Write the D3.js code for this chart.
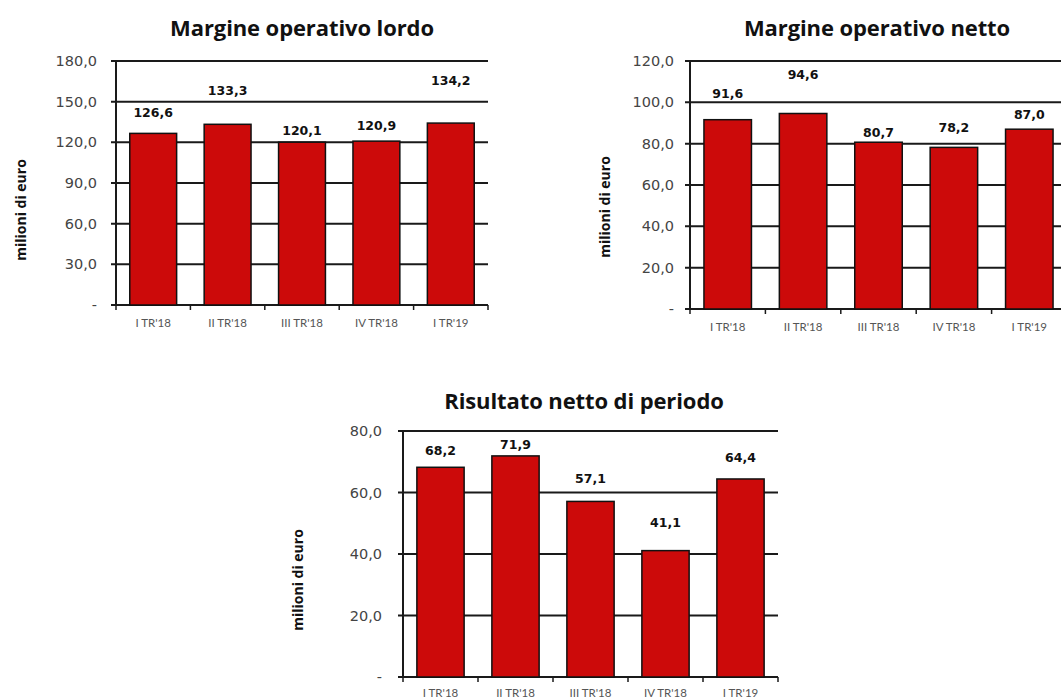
<!DOCTYPE html>
<html>
<head>
<meta charset="utf-8">
<script src="https://cdn.jsdelivr.net/npm/d3@7"></script>
<style>
  html, body { margin: 0; padding: 0; background: #fff; }
  svg { display: block; }
</style>
</head>
<body>
<svg id="chart" width="1061" height="700"></svg>
<script>
// ---- Data ----
const categories = ["I TR'18", "II TR'18", "III TR'18", "IV TR'18", "I TR'19"];
const margineLordo = [126.6, 133.3, 120.1, 120.9, 134.2];
const margineNetto = [91.6, 94.6, 80.7, 78.2, 87.0];
const risultatoNetto = [68.2, 71.9, 57.1, 41.1, 64.4];
const ticksLordo = [0, 30, 60, 90, 120, 150, 180];
const ticksNetto = [0, 20, 40, 60, 80, 100, 120];
const ticksRisultato = [0, 20, 40, 60, 80];
const titles = ["Margine operativo lordo", "Margine operativo netto", "Risultato netto di periodo"];
const yAxisTitle = "milioni di euro";

// ---- Layout ----
const charts = [
  { title: titles[0], values: margineLordo, ticks: ticksLordo,
    x0: 116, x1: 488, yTop: 61, yBot: 305, titleX: 302, titleY: 36,
    yTitleX: 21, yTitleY: 210, tickLabelX: 97, catY: 327,
    labelDy: [21, 34, 12, 15, 42] },
  { title: titles[1], values: margineNetto, ticks: ticksNetto,
    x0: 690, x1: 1067, yTop: 61, yBot: 309, titleX: 877, titleY: 36,
    yTitleX: 605, yTitleY: 207, tickLabelX: 674, catY: 331,
    labelDy: [26, 39, 10, 20, 15] },
  { title: titles[2], values: risultatoNetto, ticks: ticksRisultato,
    x0: 403, x1: 778, yTop: 431, yBot: 677, titleX: 584, titleY: 409,
    yTitleX: 298, yTitleY: 580, tickLabelX: 382, catY: 697,
    labelDy: [17, 11, 23, 28, 21] }
];

const fmt = v => v === 0 ? "-" : v.toFixed(1).replace(".", ",");
const svg = d3.select("#chart");

charts.forEach(c => {
  const g = svg.append("g");
  const x = d3.scaleBand().domain(categories).range([c.x0, c.x1])
    .paddingInner(0.37).paddingOuter(0.185);
  const y = d3.scaleLinear().domain([0, d3.max(c.ticks)]).range([c.yBot, c.yTop]);

  // title
  g.append("text").attr("x", c.titleX).attr("y", c.titleY)
    .attr("text-anchor", "middle")
    .style("font-family", "'Open Sans', Lato, sans-serif")
    .style("font-weight", "bold").style("font-size", "22px").style("fill", "#111")
    .style("letter-spacing", "-0.1px")
    .text(c.title);

  // y-axis title
  g.append("text")
    .attr("transform", `translate(${c.yTitleX},${c.yTitleY}) rotate(-90)`)
    .attr("text-anchor", "middle").attr("dy", "0.35em")
    .style("font-family", "'Open Sans', Lato, sans-serif")
    .style("font-weight", "bold").style("font-size", "14px").style("fill", "#111")
    .text(yAxisTitle);

  // gridlines (incl. baseline) with left tick marks
  g.selectAll("line.grid").data(c.ticks).enter().append("line")
    .attr("class", "grid")
    .attr("x1", c.x0 - 5).attr("x2", c.x1)
    .attr("y1", d => y(d)).attr("y2", d => y(d))
    .attr("stroke", "#1a1a1a").attr("stroke-width", 2);

  // y tick labels
  g.selectAll("text.ytick").data(c.ticks).enter().append("text")
    .attr("class", "ytick")
    .attr("x", c.tickLabelX).attr("y", d => y(d)).attr("dy", "0.35em")
    .attr("text-anchor", "end")
    .style("font-family", "'DejaVu Sans', sans-serif")
    .style("font-size", "14.5px").style("fill", "#444")
    .text(fmt);

  // y axis line
  g.append("line").attr("x1", c.x0).attr("x2", c.x0)
    .attr("y1", c.yTop).attr("y2", c.yBot + 1)
    .attr("stroke", "#1a1a1a").attr("stroke-width", 2);

  // category boundary ticks
  const step = x.step();
  const bounds = d3.range(categories.length + 1).map(i => c.x0 + i * step);
  g.selectAll("line.xtick").data(bounds).enter().append("line")
    .attr("class", "xtick")
    .attr("x1", d => d).attr("x2", d => d)
    .attr("y1", c.yBot).attr("y2", c.yBot + 5)
    .attr("stroke", "#1a1a1a").attr("stroke-width", 1.5);

  // bars
  const data = categories.map((k, i) => ({ k, v: c.values[i], dy: c.labelDy[i] }));
  g.selectAll("rect.bar").data(data).enter().append("rect")
    .attr("class", "bar")
    .attr("x", d => x(d.k)).attr("width", x.bandwidth())
    .attr("y", d => y(d.v)).attr("height", d => c.yBot - y(d.v))
    .attr("fill", "#cc0a0a").attr("stroke", "#111").attr("stroke-width", 1.5);

  // value labels
  g.selectAll("text.val").data(data).enter().append("text")
    .attr("class", "val")
    .attr("x", d => x(d.k) + x.bandwidth() / 2)
    .attr("y", d => y(d.v) - d.dy).attr("dy", "0.35em")
    .attr("text-anchor", "middle")
    .style("font-family", "'DejaVu Sans', sans-serif")
    .style("font-weight", "bold").style("font-size", "12.5px").style("fill", "#111")
    .text(d => fmt(d.v));

  // category labels
  g.selectAll("text.cat").data(categories).enter().append("text")
    .attr("class", "cat")
    .attr("x", d => x(d) + x.bandwidth() / 2).attr("y", c.catY)
    .attr("text-anchor", "middle")
    .style("font-family", "Lato, 'Open Sans', sans-serif")
    .style("font-size", "11.5px").style("fill", "#555")
    .text(d => d);
});
</script>
</body>
</html>
